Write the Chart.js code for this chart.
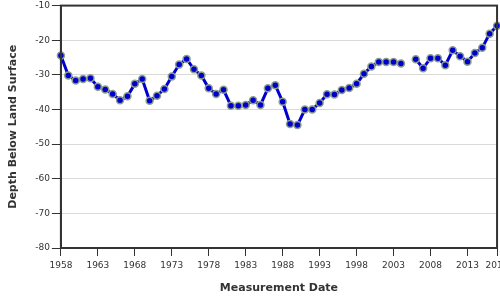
<!DOCTYPE html>
<html>
<head>
<meta charset="utf-8">
<script src="https://cdn.jsdelivr.net/npm/chart.js@4"></script>
<style>
  html, body { margin: 0; padding: 0; background: #fff; }
  #wrap { width: 500px; height: 300px; overflow: hidden; position: relative; }
</style>
</head>
<body>
<div id="wrap"><canvas id="chart" width="513" height="300"></canvas></div>
<script>
// water level record, one reading per year (2005 missing)
const years = [
  1958, 1959, 1960, 1961, 1962, 1963, 1964, 1965, 1966, 1967,
  1968, 1969, 1970, 1971, 1972, 1973, 1974, 1975, 1976, 1977,
  1978, 1979, 1980, 1981, 1982, 1983, 1984, 1985, 1986, 1987,
  1988, 1989, 1990, 1991, 1992, 1993, 1994, 1995, 1996, 1997,
  1998, 1999, 2000, 2001, 2002, 2003, 2004, 2005, 2006, 2007,
  2008, 2009, 2010, 2011, 2012, 2013, 2014, 2015, 2016, 2017
];
const depths = [
  -24.4, -30.2, -31.6, -31.2, -31.0, -33.4, -34.2, -35.5, -37.3, -36.2,
  -32.6, -31.2, -37.5, -36.0, -34.1, -30.5, -27.0, -25.4, -28.4, -30.2,
  -33.9, -35.5, -34.3, -38.9, -38.9, -38.7, -37.3, -38.7, -33.9, -33.0,
  -37.8, -44.2, -44.5, -40.0, -40.0, -38.1, -35.6, -35.7, -34.4, -33.8,
  -32.6, -29.7, -27.6, -26.3, -26.3, -26.3, -26.7, null, -25.5, -28.1,
  -25.2, -25.2, -27.2, -22.9, -24.6, -26.2, -23.7, -22.2, -18.1, -15.8
];
const xTicks = [1958, 1963, 1968, 1973, 1978, 1983, 1988, 1993, 1998, 2003, 2008, 2013, 2017];
const yTicks = [-80, -70, -60, -50, -40, -30, -20, -10];

const axisColor = '#333';
const tickFont = { family: 'DejaVu Sans', size: 9 };
const yTickFont = { family: 'DejaVu Sans', size: 9, lineHeight: 0.8 };
const titleFont = { family: 'DejaVu Sans', size: 11, weight: 'bold' };

// box around the plot area
const frame = {
  id: 'frame',
  afterDatasetsDraw(chart) {
    const { ctx, chartArea: a } = chart;
    ctx.save();
    ctx.strokeStyle = axisColor;
    ctx.lineWidth = 2;
    ctx.strokeRect(a.left, a.top, a.right - a.left, a.bottom - a.top);
    ctx.restore();
  }
};

new Chart(document.getElementById('chart'), {
  type: 'line',
  data: {
    datasets: [{
      data: years.map((y, i) => ({ x: y, y: depths[i] })),
      borderColor: '#0000cc',
      borderWidth: 3,
      pointRadius: 3.5,
      pointBackgroundColor: '#0000cc',
      pointBorderColor: '#8e9e8c',
      pointBorderWidth: 1.5,
      tension: 0,
      spanGaps: false,
      clip: false
    }]
  },
  options: {
    responsive: false,
    animation: false,
    layout: { padding: { left: 7, top: 0, right: 0, bottom: 0 } },
    plugins: { legend: { display: false }, tooltip: { enabled: false } },
    scales: {
      x: {
        type: 'linear',
        min: 1958,
        max: 2017,
        afterBuildTicks: (scale) => { scale.ticks = xTicks.map(v => ({ value: v })); },
        ticks: {
          color: axisColor, font: tickFont, padding: 4.5, maxRotation: 0,
          autoSkip: false, callback: (v) => String(v)
        },
        grid: { drawOnChartArea: false, tickLength: 8, tickColor: axisColor, tickWidth: 1 },
        border: { color: axisColor, width: 2 },
        title: {
          display: true, text: 'Measurement Date', color: axisColor,
          font: titleFont, padding: { top: 6, bottom: 5 }
        }
      },
      y: {
        min: -80,
        max: -10,
        afterBuildTicks: (scale) => { scale.ticks = yTicks.map(v => ({ value: v })); },
        ticks: { color: axisColor, font: yTickFont, padding: 2 },
        grid: {
          color: (c) => (c.tick && (c.tick.value === -10 || c.tick.value === -80)) ? 'rgba(0,0,0,0)' : '#d9d9d9',
          lineWidth: 1, tickLength: 9, tickColor: axisColor, tickWidth: 1
        },
        border: { color: axisColor, width: 2 },
        title: {
          display: true, text: 'Depth Below Land Surface', color: axisColor,
          font: titleFont, padding: { top: 0, bottom: 13 }
        }
      }
    }
  },
  plugins: [frame]
});
</script>
</body>
</html>
